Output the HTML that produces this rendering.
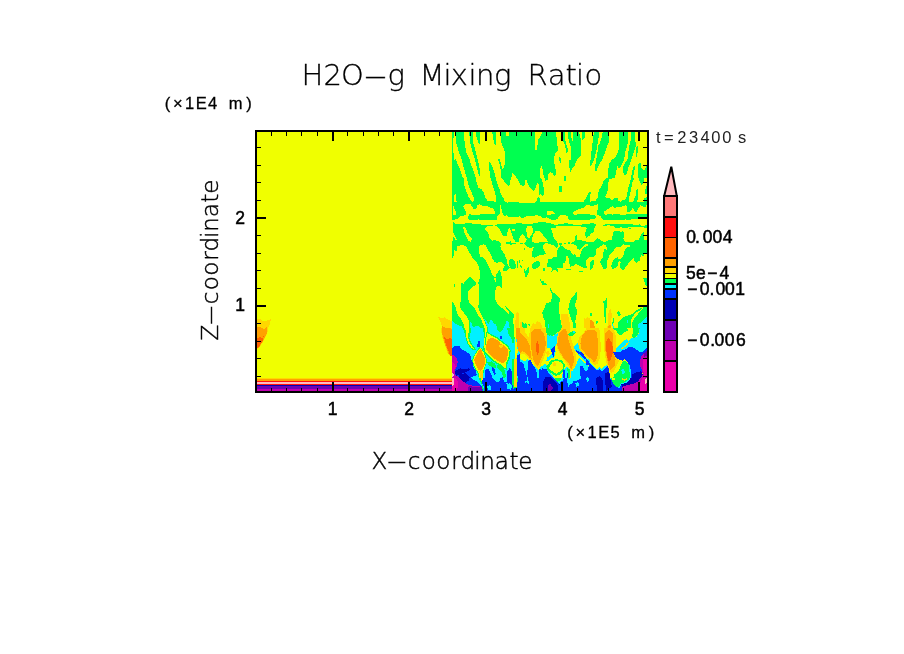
<!DOCTYPE html>
<html><head><meta charset="utf-8"><title>H2O-g Mixing Ratio</title>
<style>
html,body{margin:0;padding:0;background:#fff;}
body{width:904px;height:654px;overflow:hidden;}
svg{display:block}
text{font-family:"DejaVu Sans","Liberation Sans",sans-serif;fill:#000;}
.thin{font-weight:200;stroke:#000;stroke-width:0.3px;}
.ax{font-weight:200;stroke:#000;stroke-width:0.45px;}
.sm{font-family:"Liberation Sans","DejaVu Sans",sans-serif;stroke:#000;stroke-width:0.3px;}
.tm{font-family:"Liberation Sans","DejaVu Sans",sans-serif;fill:#222;}
.lab text{font-family:"Liberation Sans","DejaVu Sans",sans-serif;stroke:#000;stroke-width:0.5px;}
</style></head><body>
<svg width="904" height="654" viewBox="0 0 904 654">
<rect width="904" height="654" fill="#fff"/>
<g shape-rendering="crispEdges">
<rect x="256" y="131" width="392" height="261" fill="#f0ff00"/>
<g id="field">
<defs><clipPath id="c1"><rect x="452" y="131" width="68" height="47"/></clipPath><clipPath id="c2"><rect x="520" y="131" width="70" height="47"/></clipPath><clipPath id="c3"><rect x="590" y="131" width="58" height="47"/></clipPath><clipPath id="c4"><rect x="452" y="178" width="68" height="50"/></clipPath><clipPath id="c5"><rect x="520" y="178" width="70" height="50"/></clipPath><clipPath id="c6"><rect x="590" y="178" width="58" height="50"/></clipPath><clipPath id="c7"><rect x="452" y="228" width="68" height="50"/></clipPath><clipPath id="c8"><rect x="520" y="228" width="70" height="50"/></clipPath><clipPath id="c9"><rect x="590" y="228" width="58" height="50"/></clipPath><clipPath id="c10"><rect x="452" y="278" width="68" height="50"/></clipPath><clipPath id="c11"><rect x="520" y="278" width="70" height="50"/></clipPath><clipPath id="c12"><rect x="590" y="278" width="58" height="50"/></clipPath><clipPath id="c13"><rect x="452" y="328" width="68" height="50"/></clipPath><clipPath id="c14"><rect x="520" y="328" width="70" height="50"/></clipPath><clipPath id="c15"><rect x="590" y="328" width="58" height="50"/></clipPath><clipPath id="c16"><rect x="452" y="378" width="68" height="14"/></clipPath><clipPath id="c17"><rect x="520" y="378" width="70" height="14"/></clipPath><clipPath id="c18"><rect x="590" y="378" width="58" height="14"/></clipPath><clipPath id="c19"><rect x="500" y="352" width="60" height="40"/></clipPath><clipPath id="c20"><rect x="560" y="352" width="60" height="40"/></clipPath><clipPath id="c21"><rect x="257" y="300" width="100" height="92"/></clipPath><clipPath id="c22"><rect x="400" y="300" width="52" height="92"/></clipPath></defs>
<rect x="452.0" y="178.0" width="68.0" height="50.0" fill="#00ff50"/>
<rect x="452.0" y="328.0" width="68.0" height="50.0" fill="#00f0ff"/>
<rect x="452.0" y="378.0" width="196.0" height="14.0" fill="#0032ff"/>
<g clip-path="url(#c1)">
<polygon points="451.9,131.9 453.9,131.9 453.9,136.5 453.3,138.5 453.3,151.2 454.3,160.5 455.8,159.0 457.7,164.4 460.1,169.8 462.8,178.0 451.9,178.0" fill="#00ff50"/>
<polygon points="456.0,131.9 463.9,131.9 464.3,139.6 465.5,148.1 466.7,153.6 469.4,159.0 470.9,164.4 473.2,169.8 474.8,174.5 475.9,178.0 466.7,178.0 464.3,169.8 462.8,164.4 461.6,159.0 459.3,153.6 457.7,148.1 456.0,141.9" fill="#00ff50"/>
<polygon points="469.0,131.9 473.2,131.9 473.4,143.5 475.6,151.2 477.5,159.0 479.4,166.7 480.4,174.5 480.1,177.6 478.7,174.5 476.7,166.7 474.8,159.0 472.1,151.2 470.5,143.5" fill="#00ff50"/>
<polygon points="475.9,131.9 479.8,131.9 479.8,143.9 478.7,143.1 476.7,138.1" fill="#00ff50"/>
<polygon points="492.2,131.9 496.1,131.9 496.3,145.8 494.5,144.3 493.0,138.1" fill="#00ff50"/>
<polygon points="488.7,162.1 490.3,162.1 492.2,166.7 494.2,171.4 495.7,178.0 490.3,178.0 489.5,171.4 488.7,166.7" fill="#00ff50"/>
<polygon points="501.5,131.9 520.0,131.9 520.0,178.0 515.8,178.0 515.8,176.8 512.4,172.9 511.2,178.0 501.1,178.0 501.1,171.4 499.6,164.4 498.0,159.0 499.6,159.0 501.1,164.4 502.3,169.1 503.8,168.3 505.0,162.9 505.0,152.8 503.4,148.1 501.1,141.9" fill="#00ff50"/>
<rect x="506.2" y="131.9" width="3.1" height="4.3" fill="#f0ff00"/>
</g>
<g clip-path="url(#c2)">
<polygon points="520.0,131.9 556.0,131.9 557.2,143.5 558.0,150.5 555.2,153.6 554.1,157.4 554.1,162.9 555.2,166.7 556.0,172.9 555.2,175.6 554.1,175.6 552.5,172.9 549.8,172.2 548.3,174.5 547.9,178.0 520.0,178.0" fill="#00ff50"/>
<polygon points="535.1,131.9 542.1,131.9 540.9,135.7 538.2,139.6 537.4,145.8 536.7,149.7 535.1,149.7" fill="#f0ff00"/>
<polygon points="540.9,166.0 542.1,166.7 543.2,172.9 544.0,178.0 540.1,178.0 540.1,169.8" fill="#f0ff00"/>
<polygon points="563.0,131.9 564.9,131.9 565.3,139.6 566.5,145.0 567.6,148.1 568.0,152.0 566.5,152.8 565.7,148.1 564.2,143.5 563.0,141.2" fill="#00ff50"/>
<polygon points="567.6,131.9 571.1,131.9 571.5,138.1 572.7,141.9 573.3,131.9 579.3,131.9 579.6,135.7 581.2,140.4 581.2,154.3 580.0,156.7 577.3,159.0 575.8,162.1 575.0,166.0 571.9,168.3 570.7,172.2 569.6,169.8 569.2,160.5 570.7,159.8 570.7,146.6 568.8,141.2 568.0,135.7" fill="#00ff50"/>
<polygon points="582.0,131.9 585.1,131.9 584.7,137.3 582.4,140.0" fill="#00ff50"/>
<polygon points="559.1,157.0 560.3,157.4 561.1,160.5 560.7,162.9 559.5,160.5" fill="#00ff50"/>
<polygon points="564.2,175.3 565.7,176.4 566.5,178.0 564.2,178.0" fill="#00ff50"/>
</g>
<g clip-path="url(#c3)">
<polygon points="593.9,131.9 598.9,131.9 598.5,138.1 597.7,142.7 597.0,147.4 596.2,151.2 594.6,157.4 593.1,162.1 591.2,165.2 590.0,166.0 590.0,162.1 590.8,159.0 591.9,147.4 593.1,138.1" fill="#00ff50"/>
<polygon points="602.8,131.9 609.0,131.9 609.0,141.9 606.7,147.4 604.7,153.6 602.4,159.0 600.1,162.9 597.7,167.5 597.0,170.6 595.0,170.6 595.4,165.2 596.6,157.4 597.7,151.2 598.1,145.8 600.1,142.7 601.6,138.1" fill="#00ff50"/>
<polygon points="619.0,131.9 628.0,131.9 628.0,142.7 626.4,148.1 625.1,152.8 624.3,159.0 622.7,162.9 620.6,166.7 619.0,168.3 617.5,166.0 616.3,171.4 614.8,178.0 608.2,178.0 608.2,169.8 609.4,163.6 611.7,159.8 614.8,158.2 617.1,153.6 619.0,148.9" fill="#00ff50"/>
<polygon points="631.1,131.9 634.9,131.9 635.3,141.2 636.5,143.5 634.9,148.9 633.0,154.3 631.1,160.5 628.7,166.7 627.2,172.2 625.6,175.3 624.1,174.5 622.9,172.2 623.3,166.7 625.2,162.9 627.6,159.0 628.3,153.6 628.7,148.1 629.9,143.5 631.1,138.1" fill="#00ff50"/>
<polygon points="636.5,146.6 638.0,145.8 638.0,149.7 636.9,156.7 636.1,156.7 636.1,151.2" fill="#00ff50"/>
<polygon points="633.4,166.7 634.9,165.2 634.9,168.3 633.8,172.9 633.0,178.0 631.1,178.0 631.8,172.9" fill="#00ff50"/>
<polygon points="638.4,163.6 640.7,163.2 641.5,168.3 644.2,170.6 646.2,166.0 647.3,165.2 647.3,178.0 638.0,178.0 638.0,168.3" fill="#00ff50"/>
</g>
<g clip-path="url(#c4)">
<polygon points="463.9,178.0 466.7,178.0 468.6,185.7 471.3,191.9 473.6,197.4 474.0,201.2 472.1,201.6 468.6,197.4 466.3,191.2 464.3,185.7" fill="#f0ff00"/>
<polygon points="475.9,178.0 490.7,178.0 492.2,184.2 494.9,191.9 496.5,200.5 495.3,202.8 493.4,201.2 490.3,200.9 488.0,201.6 485.6,198.1 484.1,193.5 481.8,189.6 478.7,188.1 476.7,183.4" fill="#f0ff00"/>
<polygon points="495.7,178.0 501.5,178.0 507.7,185.7 508.9,186.5 510.0,184.2 510.8,178.0 516.6,178.0 520.0,183.4 520.0,202.8 518.2,202.0 508.9,202.0 507.7,202.8 504.2,201.2 503.8,198.1 501.1,195.0 499.6,189.6 497.3,183.4" fill="#f0ff00"/>
<polygon points="454.3,194.7 455.8,193.9 456.2,200.5 457.0,201.6 454.3,201.6" fill="#f0ff00"/>
<polygon points="453.1,206.3 453.9,206.3 454.6,209.8 455.8,211.3 455.8,214.8 453.1,214.8" fill="#f0ff00"/>
<polygon points="463.2,205.9 465.1,204.3 470.5,204.3 472.1,206.3 474.0,209.4 476.3,209.4 477.1,205.5 479.0,204.3 481.0,204.7 481.8,205.5 487.2,205.5 489.5,207.4 491.1,207.8 492.2,207.4 494.9,211.3 494.9,213.6 491.8,214.4 481.0,214.4 476.3,214.8 469.4,214.4 468.2,216.0 466.3,215.2 465.9,211.3 464.3,208.2" fill="#f0ff00"/>
<polygon points="451.9,220.6 454.6,219.8 458.5,218.3 460.1,216.3 465.5,215.2 468.2,216.0 467.8,217.5 469.0,219.8 477.1,219.8 478.3,219.1 479.4,220.2 496.5,220.2 497.3,216.7 499.6,214.4 499.6,205.1 500.7,205.1 501.5,209.0 502.3,212.9 504.2,216.0 506.5,215.2 508.9,217.5 518.2,216.7 520.0,216.0 520.0,222.5 515.1,223.7 499.6,223.7 496.5,224.5 494.2,224.5 488.7,224.9 472.5,224.1 470.5,222.9 466.3,222.5 464.7,223.7 455.8,223.7 453.9,222.5 453.1,221.4 453.1,228.0 451.9,228.0" fill="#f0ff00"/>
<polygon points="484.9,228.0 487.2,226.4 494.2,225.3 496.5,226.4 498.8,228.0" fill="#f0ff00"/>
<polygon points="463.2,228.0 463.6,227.2 464.7,227.2 465.1,228.0" fill="#f0ff00"/>
</g>
<g clip-path="url(#c5)">
<polygon points="520.0,178.0 540.9,178.0 542.1,180.3 543.2,185.0 544.0,189.6 543.6,195.0 542.5,195.8 540.9,194.3 539.0,194.7 539.0,185.7 537.8,182.3 536.7,185.0 535.1,188.8 533.6,190.8 530.8,188.1 528.1,185.0 526.6,179.5 525.4,179.5 525.0,185.4 522.7,185.7 520.0,185.0" fill="#00ff50"/>
<polygon points="544.8,178.0 547.9,178.0 547.5,180.3 545.2,180.7" fill="#00ff50"/>
<polygon points="564.2,178.0 566.5,178.0 566.3,180.7 564.3,180.7" fill="#00ff50"/>
<polygon points="559.1,186.1 561.1,185.7 562.2,187.7 562.2,191.6 559.1,191.9" fill="#00ff50"/>
<polygon points="520.0,202.8 535.1,202.8 536.7,201.2 537.0,198.1 538.2,197.0 539.8,198.5 540.1,202.0 583.5,202.0 585.8,198.1 588.2,193.5 590.0,191.9 590.0,204.7 586.6,205.1 583.5,207.8 578.1,209.4 574.2,211.3 573.1,213.2 574.2,214.8 576.5,214.8 577.3,214.0 590.0,214.0 590.0,219.8 569.6,219.8 568.0,218.3 567.6,216.0 564.9,215.2 560.3,215.2 558.7,216.3 557.2,219.4 552.5,219.8 549.8,219.1 546.7,217.1 544.8,217.9 542.5,217.9 540.9,216.0 535.5,215.2 534.7,216.0 526.2,216.0 524.3,217.5 522.3,217.9 520.0,217.1" fill="#00ff50"/>
<polygon points="547.1,211.3 552.9,211.3 554.9,213.6 552.5,214.4 547.9,214.8 547.1,215.6" fill="#f0ff00"/>
<polygon points="520.0,222.2 522.3,223.7 529.3,224.5 531.6,223.7 536.3,222.9 539.4,222.2 545.6,222.5 552.5,223.7 554.1,224.9 557.2,224.9 561.1,223.7 566.5,223.3 572.7,224.5 577.3,225.3 582.0,224.5 584.3,223.7 590.0,224.5 590.0,228.0 586.6,228.0 585.8,227.2 580.4,226.4 574.2,226.0 563.4,226.0 556.4,226.4 555.2,228.0 532.0,228.0 531.6,226.0 527.4,226.0 527.0,228.0 520.0,228.0" fill="#00ff50"/>
</g>
<g clip-path="url(#c6)">
<polygon points="605.9,178.0 614.0,178.0 609.4,179.5 608.2,182.6 607.8,189.6 606.7,193.5 605.1,196.6 606.7,197.8 610.5,198.5 611.3,200.1 613.2,199.7 614.4,198.1 617.5,198.1 618.3,200.5 620.2,201.6 621.8,201.2 622.5,199.7 625.2,199.7 627.2,195.0 628.0,188.1 630.3,181.1 631.1,178.0 634.2,178.0 632.2,182.6 631.8,185.7 630.3,193.5 629.1,196.6 629.1,201.6 633.4,201.6 634.2,198.1 635.7,195.8 636.1,190.4 638.0,188.8 638.0,195.0 637.3,201.6 647.3,201.6 647.3,204.3 645.8,206.3 643.8,207.8 641.9,205.9 640.3,205.1 636.5,212.1 634.9,212.1 633.8,209.0 632.6,208.2 629.5,212.1 627.2,212.1 627.2,207.4 626.0,204.3 624.1,205.9 621.8,206.7 617.1,207.4 614.8,207.8 613.2,206.3 610.9,206.7 606.3,210.5 604.3,211.3 604.3,214.4 605.9,214.8 610.9,213.6 612.5,214.8 613.2,214.0 619.4,214.0 621.0,214.8 627.2,214.4 628.7,213.6 634.9,214.4 636.5,213.6 647.3,213.6 647.3,217.1 638.8,218.7 633.4,219.1 628.0,220.2 625.6,219.1 624.1,220.2 603.2,219.8 601.6,218.3 600.8,216.3 599.3,215.6 597.4,214.8 597.0,211.3 597.7,209.0 598.5,205.1 597.4,204.3 595.4,205.1 593.1,205.9 590.0,206.3 590.0,201.6 595.8,201.2 596.2,198.9 597.7,197.4 598.1,193.5 599.3,189.6 601.6,185.7 603.6,181.1" fill="#00ff50"/>
<polygon points="638.4,178.0 644.2,178.0 644.2,181.9 642.7,183.4 641.5,184.6 639.6,181.1" fill="#00ff50"/>
<polygon points="645.8,186.5 647.3,185.7 647.3,193.5 645.0,193.5" fill="#00ff50"/>
<polygon points="644.2,197.8 647.3,197.4 647.3,202.0 644.2,202.0" fill="#00ff50"/>
<polygon points="590.0,191.9 590.9,191.9 590.9,193.9 590.0,193.9" fill="#00ff50"/>
<polygon points="590.0,215.2 595.4,215.2 595.8,217.5 594.6,219.1 590.0,219.4" fill="#00ff50"/>
<polygon points="590.0,223.3 593.9,223.3 595.8,224.5 595.4,226.4 594.6,228.0 590.0,228.0" fill="#00ff50"/>
<polygon points="603.2,225.3 606.3,224.1 627.2,224.5 628.7,223.7 633.4,224.5 636.5,225.3 639.6,224.1 641.1,226.0 644.2,226.4 645.8,225.3 647.3,224.9 647.3,228.0 644.2,228.0 643.4,227.2 628.7,226.8 627.2,228.0 622.5,228.0 621.0,226.4 619.4,228.0 615.6,228.0 614.0,226.0 608.6,225.3 603.9,226.0" fill="#00ff50"/>
</g>
<g clip-path="url(#c7)">
<polygon points="453.1,228.0 463.2,228.0 464.3,232.6 466.7,237.3 468.2,241.2 470.5,241.6 472.1,239.6 470.9,237.3 467.8,233.4 465.9,228.0 484.1,228.0 488.0,232.6 489.5,238.1 491.8,240.8 494.9,240.0 497.3,240.8 499.6,241.9 501.1,244.3 500.3,246.6 501.5,249.7 504.2,253.6 506.5,259.0 507.7,264.4 509.6,267.5 507.7,270.2 506.9,271.4 503.4,271.4 502.7,269.8 504.2,266.7 504.6,265.2 501.9,262.5 499.6,262.1 496.5,262.9 494.9,262.1 492.6,259.4 491.1,255.1 488.0,249.7 485.6,245.4 483.3,244.3 481.0,245.0 479.4,246.6 479.4,253.6 479.8,256.7 482.5,257.4 484.9,259.0 486.4,261.3 488.0,265.2 490.3,269.1 491.8,273.7 493.4,276.0 494.9,278.0 479.8,278.0 479.8,271.4 478.7,266.7 476.3,262.1 473.2,259.0 470.9,255.1 468.6,251.2 466.7,247.4 464.3,245.4 460.8,245.4 457.7,245.8 457.0,248.1 457.0,251.2 455.8,251.6 454.6,249.3 453.9,253.6 453.1,257.8 451.9,257.8 452.2,243.5 453.1,237.3 454.3,237.3 455.4,239.6 456.6,239.6 455.4,236.5 453.5,232.6" fill="#00ff50"/>
<polygon points="499.2,228.0 508.9,228.0 507.7,231.1 506.5,235.7 502.7,235.7 500.7,231.1" fill="#00ff50"/>
<polygon points="510.0,228.0 520.0,228.0 520.0,237.3 518.9,238.1 518.9,241.2 520.0,241.9 520.0,242.3 515.8,242.3 514.3,239.6 513.1,238.1 511.2,231.9" fill="#00ff50"/>
<rect x="512.4" y="228.8" width="2.3" height="1.9" fill="#f0ff00"/>
<polygon points="506.2,242.3 508.9,241.9 510.4,241.2 512.0,243.1 515.8,243.1 515.8,243.9 511.2,244.7 506.2,243.9" fill="#00ff50"/>
<polygon points="510.4,259.0 512.7,259.4 514.7,261.3 515.5,264.4 515.8,267.5 514.3,269.4 510.4,268.3 509.3,266.0 509.3,260.5" fill="#00ff50"/>
<polygon points="495.3,278.0 496.5,273.7 499.6,270.2 501.1,272.9 501.9,278.0" fill="#00ff50"/>
<rect x="518.9" y="260.1" width="1.1" height="2.7" fill="#00ff50"/>
<rect x="517.2" y="260.5" width="0.8" height="7.4" fill="#00ff50"/>
<rect x="468.6" y="277.2" width="2.3" height="0.9" fill="#00ff50"/>
</g>
<g clip-path="url(#c8)">
<polygon points="520.0,228.0 526.2,228.0 526.6,232.6 527.7,237.3 529.3,238.1 531.6,235.0 533.2,231.9 533.2,228.0 551.0,228.0 552.1,231.9 553.3,236.5 554.9,239.6 557.2,241.9 558.0,243.5 558.0,246.6 556.4,248.1 554.9,245.8 552.5,244.7 549.4,244.3 547.1,243.1 544.8,243.5 543.2,245.8 543.2,248.9 544.8,251.2 545.9,253.9 544.0,254.7 540.9,255.1 537.8,255.9 534.7,257.8 532.4,257.0 532.0,252.8 532.8,249.7 533.9,246.6 532.4,247.4 530.1,247.8 527.0,246.6 524.6,244.7 524.3,243.5 525.8,241.6 527.0,239.6 524.6,236.5 522.3,234.2 520.8,235.4 520.0,235.7" fill="#00ff50"/>
<polygon points="535.5,231.1 539.8,231.1 542.5,234.2 544.8,237.3 546.7,239.6 547.9,241.9 544.8,242.3 533.9,242.7 532.0,241.2 532.0,238.1 533.6,234.2" fill="#f0ff00"/>
<polygon points="558.7,243.1 562.2,243.1 561.1,245.8 563.4,246.6 565.7,248.9 567.3,249.7 569.6,249.7 571.1,251.2 571.1,252.8 573.4,254.7 574.6,253.9 576.5,256.7 579.6,256.7 581.2,251.2 583.5,248.1 585.8,246.6 588.2,246.2 588.2,244.3 585.8,244.3 583.5,245.8 581.2,248.9 579.6,249.7 577.3,248.9 576.9,245.8 574.2,244.7 571.1,243.5 572.7,241.9 575.0,240.8 575.4,235.7 576.9,235.0 577.3,240.0 581.2,240.4 585.1,240.8 585.8,241.9 590.0,241.9 590.0,256.7 588.2,257.8 586.2,260.5 585.5,262.9 586.6,266.0 586.6,267.9 583.5,267.5 579.6,266.0 577.3,264.4 575.4,264.0 572.7,266.3 570.3,266.7 569.6,264.4 569.2,260.5 568.0,256.3 566.5,256.3 565.7,260.5 564.5,262.9 563.0,263.6 562.6,267.5 557.2,268.3 558.7,271.4 557.2,272.2 555.6,270.2 553.3,270.2 552.1,272.2 551.0,271.8 552.1,269.1 550.6,267.5 547.1,266.7 546.7,264.4 547.9,262.1 547.9,259.4 551.0,259.0 553.3,257.4 556.4,257.0 557.2,254.3 557.2,250.5 558.7,248.1 559.9,246.2" fill="#00ff50"/>
<polygon points="587.0,228.0 590.0,228.0 590.0,235.7 588.2,236.5 586.6,238.1 585.5,235.7 584.3,234.2 585.5,231.9" fill="#00ff50"/>
<polygon points="532.0,265.2 533.9,262.5 536.7,261.3 539.0,261.3 540.1,262.9 540.5,265.2 539.0,266.7 536.3,268.3 533.9,269.1 532.4,267.9" fill="#00ff50"/>
<polygon points="523.5,269.1 525.0,269.1 525.8,271.4 527.0,269.8 527.7,267.1 528.9,267.1 529.1,271.4 528.1,274.5 527.0,276.0 526.6,277.2 525.0,277.2 525.4,274.5 524.3,272.2" fill="#00ff50"/>
<rect x="520.0" y="243.1" width="2.7" height="0.8" fill="#00ff50"/>
<rect x="564.2" y="243.1" width="1.9" height="0.8" fill="#00ff50"/>
<rect x="568.0" y="242.3" width="1.9" height="1.5" fill="#00ff50"/>
<rect x="566.1" y="269.1" width="4.6" height="1.2" fill="#00ff50"/>
<rect x="579.3" y="271.0" width="3.9" height="1.2" fill="#00ff50"/>
<rect x="542.9" y="268.3" width="1.9" height="2.2" fill="#00ff50"/>
<rect x="523.9" y="248.1" width="1.2" height="1.9" fill="#00ff50"/>
<rect x="521.9" y="259.8" width="1.2" height="1.2" fill="#00ff50"/>
<polygon points="520.0,265.2 521.2,265.2 521.9,267.5 520.8,267.9" fill="#00ff50"/>
</g>
<g clip-path="url(#c9)">
<polygon points="590.0,241.9 593.1,242.3 595.4,239.6 597.7,238.1 600.1,239.6 603.2,241.6 606.3,241.6 608.6,240.4 612.1,239.6 612.5,235.7 613.2,232.6 614.8,231.1 617.9,231.1 619.0,230.3 620.2,232.6 622.5,231.1 624.1,232.3 624.1,235.7 623.3,238.8 624.1,241.2 627.2,241.9 633.4,241.6 635.7,240.0 638.4,240.4 640.0,237.3 641.1,234.2 643.4,232.3 644.2,233.4 644.2,239.6 647.3,239.6 647.3,253.6 644.2,253.9 643.4,255.9 641.1,255.1 640.3,257.4 639.6,260.5 636.5,262.9 634.9,261.3 633.4,258.2 632.2,259.8 628.7,262.9 627.2,265.2 624.9,268.3 623.3,269.8 621.0,269.1 619.8,267.5 620.6,262.1 619.4,261.3 618.3,262.5 617.9,265.2 615.6,267.5 612.5,269.1 610.9,266.3 612.1,262.9 613.2,259.8 615.6,258.2 617.9,257.0 618.7,259.0 621.0,259.0 623.3,255.9 624.1,252.0 625.6,248.9 627.2,247.4 629.5,246.6 629.9,245.4 624.9,244.7 623.7,244.3 621.0,245.8 620.6,247.0 616.3,246.6 614.8,248.9 612.5,252.0 609.4,255.5 608.2,259.0 607.0,261.3 606.7,268.3 604.7,269.1 602.8,268.7 602.4,266.7 600.8,264.4 600.1,261.3 601.6,259.0 603.6,257.0 602.8,253.6 604.3,249.3 606.7,249.7 606.7,247.4 605.1,244.7 603.6,244.3 600.1,246.6 597.7,248.1 596.2,249.7 595.8,254.3 593.9,256.7 590.0,257.0" fill="#00ff50"/>
<polygon points="590.0,228.0 593.9,228.0 593.9,231.1 592.3,233.0 590.0,233.8" fill="#00ff50"/>
<polygon points="590.0,262.1 591.5,260.5 593.5,260.1 594.3,262.5 593.5,265.2 592.3,268.3 590.8,269.8 590.0,269.4" fill="#00ff50"/>
<rect x="628.7" y="228.0" width="2.2" height="0.9" fill="#00ff50"/>
</g>
<g clip-path="url(#c10)">
<polygon points="451.9,302.0 453.5,302.8 455.4,306.7 456.6,311.3 458.5,316.0 461.6,319.8 463.9,324.5 464.3,328.0 462.0,328.0 461.6,326.0 457.7,325.3 454.6,322.9 451.9,321.0" fill="#00ff50"/>
<polygon points="451.9,321.0 454.6,322.9 457.7,325.3 461.6,326.0 462.0,328.0 451.9,328.0" fill="#00f0ff"/>
<polygon points="460.8,283.0 462.8,283.0 463.6,284.2 464.7,281.9 468.2,278.0 472.1,278.0 473.2,280.3 475.9,281.9 475.9,284.6 473.2,286.5 470.5,288.8 468.6,290.8 468.2,293.5 468.2,299.7 469.4,302.8 472.5,305.5 474.8,308.2 476.7,312.1 478.7,316.0 481.0,319.1 482.5,322.9 484.1,326.4 484.1,328.0 479.8,328.0 478.7,326.0 475.6,326.4 474.0,327.6 472.5,326.4 471.7,322.9 470.5,322.2 470.1,328.0 469.4,328.0 468.6,319.8 467.0,316.7 463.9,312.9 461.6,309.8 460.1,306.7 460.1,302.8 461.2,299.7 461.2,293.5" fill="#00ff50"/>
<polygon points="470.5,322.2 471.7,322.9 472.5,326.4 474.0,327.6 475.6,326.4 478.7,326.0 479.8,328.0 470.1,328.0" fill="#00f0ff"/>
<polygon points="479.8,278.0 493.4,278.0 494.5,280.3 495.7,282.6 496.1,278.0 501.9,278.0 501.9,288.1 500.7,288.1 500.3,286.5 498.0,286.1 496.5,287.3 495.3,290.4 494.9,294.3 494.5,296.6 495.7,300.5 497.3,303.6 500.3,306.7 504.2,309.8 507.3,312.9 508.1,314.0 509.6,312.9 505.8,307.8 505.4,306.3 507.3,307.8 511.2,312.1 514.3,315.2 513.9,317.9 512.7,318.3 513.9,326.8 514.3,328.0 509.6,328.0 508.9,322.9 507.7,321.0 506.5,321.4 505.4,324.5 504.2,326.4 503.8,328.0 497.3,328.0 496.9,326.0 495.3,324.1 493.4,322.9 492.2,320.6 490.3,319.8 489.5,321.8 488.7,324.5 487.2,322.5 486.4,320.6 484.9,319.4 484.9,320.6 486.0,323.7 487.2,326.8 488.0,328.0 487.2,328.0 486.0,325.3 484.5,321.4 482.5,316.7 480.6,312.9 478.7,309.8 478.3,305.9 479.0,301.2 479.0,288.1 478.3,282.6" fill="#00ff50"/>
<polygon points="484.1,319.1 486.4,320.6 487.2,322.5 488.7,324.5 489.5,321.8 490.3,319.8 492.2,320.6 493.4,322.9 495.3,324.1 496.9,326.0 497.3,328.0 488.0,328.0 487.2,326.8 486.0,323.7 484.9,320.6" fill="#00f0ff"/>
<polygon points="506.5,321.4 507.7,321.0 508.9,322.9 509.6,328.0 503.8,328.0 504.2,326.4 505.4,324.5" fill="#00f0ff"/>
<polygon points="515.8,313.6 517.4,311.3 518.6,313.6 518.9,328.0 515.1,328.0 515.5,319.8" fill="#ffd700"/>
<rect x="453.9" y="283.8" width="1.2" height="3.1" fill="#00ff50"/>
</g>
<g clip-path="url(#c11)">
<polygon points="549.8,288.1 551.0,288.1 552.1,291.6 556.4,294.7 559.9,298.1 559.9,301.2 559.1,302.8 559.1,312.1 559.9,316.7 560.7,321.4 561.8,326.0 562.2,328.0 545.6,328.0 545.2,321.4 543.2,317.5 542.9,314.4 542.1,313.6 543.2,310.5 544.8,307.4 545.9,303.9 547.1,302.8 549.8,302.4 551.4,300.5 551.9,293.5 550.2,290.8" fill="#00ff50"/>
<polygon points="576.2,292.3 577.2,292.3 577.2,297.4 575.4,303.6 575.4,306.7 576.5,309.0 577.2,311.3 576.9,313.6 575.8,316.7 575.4,321.4 575.8,325.3 575.8,328.0 573.4,328.0 572.7,322.9 571.1,319.1 569.6,314.4 568.4,309.8 568.8,305.1 570.3,300.5 571.1,298.1 573.4,296.2" fill="#00ff50"/>
<polygon points="521.9,322.2 523.1,322.5 524.3,323.7 525.8,323.3 527.0,324.9 527.0,328.0 522.7,328.0 521.9,325.3" fill="#00ff50"/>
<polygon points="539.8,279.2 540.9,279.2 541.3,280.7 543.6,281.1 544.0,282.6 546.3,283.4 546.7,284.6 545.2,285.7 544.8,284.6 542.5,284.6 541.3,282.3 539.8,280.7" fill="#00ff50"/>
<polygon points="528.1,324.1 529.7,324.1 530.1,325.6 528.5,325.4" fill="#00ff50"/>
<polygon points="561.1,314.4 563.4,314.0 564.9,314.4 567.6,314.4 568.4,316.7 569.6,322.2 570.0,328.0 562.2,328.0 561.4,322.2 561.1,318.3" fill="#ffd700"/>
<polygon points="520.0,321.4 521.5,322.2 521.9,325.3 522.7,328.0 520.0,328.0" fill="#ffd700"/>
<polygon points="531.2,328.0 531.6,326.0 532.8,322.9 534.3,323.3 535.1,324.5 536.3,322.2 537.4,321.0 539.0,321.8 540.5,322.5 541.3,324.5 542.1,326.8 542.5,328.0" fill="#ffd700"/>
<polygon points="584.3,318.3 585.8,318.7 587.4,317.1 588.9,318.3 590.0,317.9 590.0,328.0 583.5,328.0 583.9,322.9" fill="#ffd700"/>
<rect x="547.9" y="324.1" width="1.2" height="4.0" fill="#00f0ff"/>
</g>
<g clip-path="url(#c12)">
<polygon points="603.2,301.2 605.1,300.9 606.1,298.1 606.9,298.1 606.7,303.6 606.3,312.9 605.9,322.9 604.7,322.9 604.3,310.5 603.9,304.3" fill="#00ff50"/>
<polygon points="647.3,306.7 644.2,307.0 641.1,308.2 636.5,310.5 633.4,313.6 628.7,315.2 624.1,316.7 621.0,319.1 618.7,321.4 617.9,324.5 618.3,328.0 638.0,328.0 638.4,324.5 642.7,320.6 647.3,316.7" fill="#00ff50"/>
<polygon points="643.4,307.8 639.6,312.1 636.5,316.0 633.4,319.8 631.8,322.9 631.8,328.0 631.1,328.0 630.7,321.4 631.8,318.3 634.9,313.6 636.5,312.1 639.6,310.9 641.9,308.6" fill="#f0ff00"/>
<polygon points="647.3,316.7 642.7,320.6 638.4,324.5 638.0,328.0 647.3,328.0" fill="#00f0ff"/>
<rect x="627.2" y="320.2" width="0.8" height="2.7" fill="#00f0ff"/>
<polygon points="643.4,278.0 647.3,278.0 647.3,285.7 645.8,285.4 644.6,282.6 643.8,280.3" fill="#00ff50"/>
<polygon points="616.7,312.5 618.7,310.9 619.8,312.9 621.0,314.4 619.4,316.3 617.9,315.2" fill="#00ff50"/>
<polygon points="590.0,313.2 591.5,313.2 591.9,316.3 590.4,316.3" fill="#00ff50"/>
<polygon points="596.2,321.4 597.7,321.0 597.7,322.5 597.0,324.1 596.2,323.7" fill="#00ff50"/>
<polygon points="612.1,323.7 612.9,321.4 613.6,317.5 614.2,317.5 614.0,321.4 613.2,324.5" fill="#00ff50"/>
<polygon points="608.2,313.6 609.4,310.5 610.5,309.0 611.3,310.5 611.7,315.2 611.3,321.4 610.9,328.0 607.4,328.0 607.8,321.4" fill="#ffd700"/>
<polygon points="608.2,326.0 610.8,324.5 610.8,328.0 608.0,328.0" fill="#ffa000"/>
<polygon points="590.0,320.2 592.3,320.6 593.5,322.2 593.9,324.5 594.6,326.4 594.6,328.0 590.0,328.0" fill="#ffa000"/>
<polygon points="612.1,324.1 612.9,324.5 614.0,328.0 612.9,328.0" fill="#00f0ff"/>
</g>
<g clip-path="url(#c13)">
<polygon points="451.9,348.9 454.6,346.2 459.3,346.2 462.4,349.7 466.7,352.0 470.1,354.7 471.3,359.0 472.5,362.1 473.2,366.7 475.6,370.6 476.7,374.5 475.6,376.0 471.7,376.8 470.9,378.0 451.9,378.0" fill="#0032ff"/>
<polygon points="451.9,354.3 454.3,355.5 457.0,358.6 457.7,362.1 456.6,366.7 454.6,370.6 454.6,374.5 457.0,376.0 459.3,378.0 451.9,378.0" fill="#be00af"/>
<polygon points="451.9,362.1 454.6,363.6 455.8,366.7 453.9,370.6 453.1,374.5 451.9,374.5" fill="#eb00aa"/>
<polygon points="454.6,371.4 460.1,368.3 465.5,369.1 469.4,368.3 470.1,370.2 465.5,372.5 459.3,374.5 456.2,376.0" fill="#0000b4"/>
<polygon points="458.5,374.6 465.3,373.2 470.1,378.0 459.3,378.0" fill="#0000b4"/>
<polygon points="451.9,372.9 453.1,373.3 453.9,375.6 452.3,377.6 451.9,377.6" fill="#ffb9be"/>
<polygon points="462.4,328.0 470.9,328.0 470.5,332.6 469.4,337.3 470.5,341.2 472.5,344.7 474.8,347.4 475.9,349.3 474.8,350.5 472.5,349.7 469.4,346.6 467.0,342.7 465.9,338.1 464.7,333.4 463.6,330.3" fill="#00ff50"/>
<polygon points="465.1,328.0 469.4,328.0 468.6,332.6 468.0,337.3 469.0,341.2 470.9,344.7 473.2,347.4 474.8,348.9 474.0,349.7 471.7,347.8 469.0,344.7 467.4,341.2 466.4,337.3 465.9,332.6" fill="#f0ff00"/>
<polygon points="482.9,328.0 488.0,328.0 487.2,332.6 486.8,337.3 485.6,343.5 484.9,350.5 484.1,352.0 483.3,349.7 483.7,343.5 484.1,335.7" fill="#00ff50"/>
<polygon points="484.5,328.0 486.8,328.0 486.3,335.7 485.2,343.5 484.7,350.5 484.1,350.5 484.2,343.5 484.7,335.7" fill="#f0ff00"/>
<polygon points="496.5,328.0 503.4,328.0 501.9,331.1 499.6,331.9 497.6,330.3" fill="#00ff50"/>
<polygon points="507.3,328.0 514.3,328.0 514.7,335.7 514.3,343.5 512.0,342.7 511.2,337.3 508.9,335.7 507.7,331.9" fill="#00ff50"/>
<polygon points="514.3,328.0 515.8,328.0 516.6,343.5 517.8,351.2 516.6,357.4 515.8,362.9 516.6,378.0 514.3,378.0 513.9,366.7 514.7,359.0 515.5,352.0 514.7,343.5" fill="#f0ff00"/>
<polygon points="515.8,328.0 520.0,328.0 520.0,352.8 518.2,351.2 517.0,343.5 516.2,335.7" fill="#ffa000"/>
<polygon points="517.4,355.1 520.0,354.3 520.0,378.0 518.2,378.0 517.4,366.7" fill="#0032ff"/>
<polygon points="487.0,330.3 491.1,334.2 494.2,335.7 497.3,336.9 500.3,339.6 504.2,342.7 508.1,345.4 510.8,350.5 510.0,355.9 509.3,359.8 507.7,362.9 506.9,369.8 505.0,369.1 502.7,366.7 499.6,365.2 495.7,363.2 492.6,360.9 489.1,357.8 486.0,354.7 484.1,352.0 484.9,343.5 485.6,336.5" fill="#00ff50"/>
<polygon points="487.2,332.6 490.3,335.0 493.4,336.5 496.5,338.1 499.6,340.8 503.4,343.5 507.3,346.6 509.6,350.5 508.9,355.1 508.1,359.0 506.5,362.1 505.8,368.3 504.2,367.5 501.9,365.2 499.6,363.6 496.5,362.1 493.4,359.8 490.3,356.7 487.2,353.6 484.9,351.2 485.6,343.5 486.4,337.3" fill="#f0ff00"/>
<polygon points="488.7,338.8 491.8,338.1 495.7,338.8 498.4,341.2 501.1,344.3 504.2,345.8 507.3,348.1 508.5,351.2 507.7,355.1 506.9,359.0 505.4,361.3 503.4,362.9 501.1,362.5 498.0,360.9 494.9,359.0 491.8,356.3 488.7,352.8 486.4,349.7 486.4,345.0 487.2,341.2" fill="#ffa000"/>
<polygon points="499.2,344.7 502.7,344.7 503.4,346.6 501.1,347.8 499.2,347.0" fill="#ffd700"/>
<polygon points="479.4,347.4 481.8,347.8 484.1,352.0 486.4,357.4 486.8,362.1 485.6,366.0 484.1,369.8 483.3,374.5 482.9,378.0 478.7,378.0 477.9,373.7 475.6,369.8 473.2,365.2 472.1,360.5 473.2,356.7 475.6,352.8 477.5,349.7" fill="#00ff50"/>
<polygon points="479.8,348.3 481.4,348.5 483.5,352.4 485.6,357.8 486.0,362.1 484.9,366.0 483.5,369.8 482.9,378.0 479.4,378.0 478.5,372.9 476.3,369.4 474.0,365.2 473.0,360.5 474.0,357.0 476.2,353.2 478.0,350.3" fill="#f0ff00"/>
<polygon points="480.2,349.3 481.4,349.7 482.9,353.6 484.9,358.2 485.2,362.1 484.1,366.0 482.5,369.4 480.6,371.0 478.7,369.8 476.7,366.7 474.8,362.9 474.4,359.8 475.6,356.7 477.1,353.6 478.7,350.9" fill="#ffa000"/>
<polygon points="479.4,371.4 482.5,370.2 482.9,374.5 482.5,378.0 479.8,378.0" fill="#ffd700"/>
<polygon points="484.9,371.4 486.4,369.1 488.7,369.4 490.3,372.2 491.8,376.0 492.2,378.0 484.9,378.0" fill="#0032ff"/>
<polygon points="492.2,366.3 493.4,366.0 494.9,369.8 495.7,373.7 494.5,375.3 493.0,372.2 491.8,369.1" fill="#0032ff"/>
<polygon points="507.3,372.2 509.3,368.3 511.2,369.8 512.0,374.5 512.0,378.0 507.7,378.0" fill="#0032ff"/>
<polygon points="477.9,341.2 479.8,341.2 479.8,346.6 477.1,346.6" fill="#0032ff"/>
<polygon points="500.3,336.1 501.9,335.7 501.5,338.8 500.0,338.5" fill="#0032ff"/>
<polygon points="487.2,362.1 491.8,361.3 494.9,363.6 496.5,366.7 494.9,368.3 491.8,366.7 488.7,365.2" fill="#00ff50"/>
<polygon points="496.5,364.4 501.1,366.0 504.2,369.1 505.8,374.5 505.4,378.0 503.4,378.0 501.9,372.9 498.8,369.8 496.5,367.5" fill="#00ff50"/>
<polygon points="512.0,359.0 514.3,359.8 514.7,365.2 512.7,368.3 511.6,364.4" fill="#00ff50"/>
</g>
<g clip-path="url(#c14)">
<polygon points="520.0,359.0 522.3,359.8 524.6,361.3 527.7,359.0 530.1,360.5 533.2,364.4 536.3,368.3 538.6,369.8 540.9,366.7 543.2,365.2 545.6,363.6 547.1,366.7 548.7,371.4 552.5,374.5 554.1,378.0 520.0,378.0" fill="#00f0ff"/>
<polygon points="520.0,361.3 523.1,362.9 524.6,368.3 526.2,372.9 527.0,378.0 520.0,378.0" fill="#0032ff"/>
<polygon points="528.5,360.5 531.6,364.4 534.7,369.8 536.7,373.7 537.0,378.0 530.1,378.0 529.3,371.4 527.7,365.2" fill="#0032ff"/>
<polygon points="542.5,368.3 545.6,369.8 547.9,373.7 551.0,376.0 551.8,378.0 540.1,378.0 540.9,372.9" fill="#0032ff"/>
<polygon points="563.4,369.8 566.5,366.7 569.6,369.1 571.9,371.4 574.2,368.3 577.3,362.1 578.9,357.4 582.0,360.5 586.6,364.4 590.0,366.7 590.0,378.0 561.8,378.0" fill="#00f0ff"/>
<polygon points="545.6,328.0 561.8,328.0 560.3,331.1 557.2,332.6 554.1,335.0 551.8,336.5 551.0,335.0 549.4,335.7 547.1,334.6 545.9,331.1" fill="#00ff50"/>
<polygon points="546.3,335.0 549.4,335.7 551.0,335.0 551.8,336.9 554.1,335.4 558.0,332.6 558.7,335.7 558.0,340.4 556.4,345.0 554.9,347.4 555.6,351.2 554.9,355.1 554.1,357.4 551.0,358.2 548.7,360.5 546.3,361.3 547.1,357.4 550.2,355.9 551.8,353.6 551.0,350.5 549.4,348.1 547.1,347.4 545.9,343.5 547.1,339.6" fill="#00f0ff"/>
<polygon points="551.8,348.1 554.9,346.2 554.9,350.5 554.1,354.3 553.3,357.4 552.1,354.3 551.0,350.5" fill="#0032ff"/>
<polygon points="520.0,328.0 524.6,328.0 525.4,332.6 528.5,337.3 531.6,343.5 532.4,351.2 533.6,359.0 532.4,361.3 529.3,359.0 524.6,354.3 522.3,353.6 520.0,355.1" fill="#ffd700"/>
<polygon points="520.0,331.9 523.1,335.7 527.0,339.6 530.1,345.8 530.8,353.6 531.6,359.0 529.3,357.4 526.2,353.6 523.1,351.2 520.0,352.8" fill="#ffa000"/>
<polygon points="530.1,328.0 545.6,328.0 546.7,335.7 547.1,343.5 546.3,350.5 544.0,357.4 541.7,362.9 540.1,367.5 537.4,369.1 534.7,366.0 532.4,360.5 530.8,353.6 529.7,343.5 529.3,334.2" fill="#ffd700"/>
<polygon points="531.6,331.1 535.5,328.8 540.1,328.8 543.2,332.6 545.2,338.1 545.9,343.5 544.8,349.7 543.2,354.3 540.9,359.0 539.4,363.6 537.8,366.7 535.5,364.4 533.2,359.0 531.6,351.2 530.8,343.5 530.8,335.7" fill="#ffa000"/>
<polygon points="536.7,341.6 537.8,340.8 539.0,345.8 539.0,352.0 537.8,355.1 536.7,352.8 535.9,347.4" fill="#ff6400"/>
<polygon points="558.0,332.6 561.8,328.0 569.6,328.0 570.3,332.6 571.1,338.1 572.7,343.5 574.2,348.9 575.8,355.1 576.5,360.5 575.8,365.2 573.4,368.3 571.9,371.4 569.6,368.3 566.5,362.9 563.4,359.0 560.3,354.3 557.6,349.7 556.4,345.0 557.2,338.1" fill="#ffd700"/>
<polygon points="559.5,332.6 562.6,329.5 565.7,328.8 567.3,332.6 568.0,338.8 569.6,343.5 571.1,348.1 572.7,352.8 574.2,359.0 573.4,363.6 571.9,367.5 571.1,369.8 569.6,365.2 568.0,362.1 565.7,360.5 563.4,357.4 561.1,353.6 558.7,349.7 557.2,345.0 558.0,338.8" fill="#ffa000"/>
<polygon points="569.6,365.2 571.1,369.8 571.5,378.0 569.2,378.0 569.6,371.4" fill="#ffd700"/>
<polygon points="545.9,352.8 548.3,350.5 549.8,353.9 547.5,356.7" fill="#ffd700"/>
<polygon points="546.3,366.7 551.0,360.5 556.4,359.0 561.8,360.5 564.9,364.4 564.2,369.8 560.3,374.5 555.6,376.0 551.0,372.9 547.1,369.8" fill="#00ff50"/>
<polygon points="548.7,368.3 552.5,362.1 556.4,360.5 560.3,362.1 563.4,364.4 563.4,368.3 560.3,371.4 556.4,373.7 552.5,371.4" fill="#f0ff00"/>
<polygon points="552.5,364.4 554.9,362.1 556.4,365.2 554.1,366.7" fill="#ffd700"/>
<polygon points="568.0,334.2 571.1,331.9 574.2,330.3 575.8,332.6 572.7,335.7 569.6,336.5" fill="#00ff50"/>
<polygon points="572.7,331.1 574.2,330.3 575.0,332.6 573.4,333.4" fill="#00f0ff"/>
<polygon points="573.4,346.6 577.3,343.5 581.2,340.4 582.0,343.5 580.4,348.1 582.0,352.8 585.8,357.4 590.0,360.5 590.0,366.7 586.6,363.6 582.0,359.0 578.9,355.1 575.8,351.2" fill="#00f0ff"/>
<polygon points="578.9,337.3 583.5,332.6 586.6,328.0 590.0,328.0 590.0,360.5 586.6,357.4 582.0,352.8 579.3,348.9 578.1,343.5" fill="#ffd700"/>
<polygon points="582.0,335.7 585.8,331.1 590.0,329.5 590.0,359.0 586.6,355.1 583.5,351.2 581.2,348.1 580.4,343.5" fill="#ffa000"/>
<polygon points="575.8,350.1 578.9,351.2 582.0,354.3 585.8,357.4 586.6,359.0 584.3,359.0 580.4,355.1 576.5,352.0" fill="#0032ff"/>
<polygon points="580.4,366.7 582.7,366.0 584.3,369.8 586.6,371.4 588.2,368.3 590.0,367.5 590.0,378.0 582.0,378.0 581.2,372.9" fill="#0032ff"/>
<polygon points="585.8,359.8 588.2,360.5 588.9,364.4 586.6,365.2" fill="#0032ff"/>
<rect x="575.8" y="371.4" width="1.5" height="3.9" fill="#0032ff"/>
<rect x="563.4" y="370.2" width="1.5" height="7.8" fill="#0032ff"/>
<rect x="566.9" y="372.9" width="1.2" height="5.1" fill="#0032ff"/>
<polygon points="566.5,367.5 569.6,369.1 570.3,374.5 569.6,378.0 568.0,378.0 568.0,372.9" fill="#00ff50"/>
</g>
<g clip-path="url(#c15)">
<polygon points="612.5,328.0 639.6,328.0 638.8,332.6 636.5,336.5 633.4,338.1 631.8,335.7 631.1,332.6 627.2,331.1 624.1,332.6 621.0,335.7 618.7,334.2 616.3,331.1" fill="#00ff50"/>
<polygon points="627.2,328.0 632.6,328.0 633.0,332.6 630.3,338.1 628.0,341.9 626.4,340.4 628.7,335.7 628.0,331.1" fill="#f0ff00"/>
<polygon points="639.6,328.0 647.3,328.0 647.3,347.4 644.2,350.5 641.1,352.8 636.5,349.7 631.8,346.6 629.5,346.6 626.4,348.9 622.5,350.5 618.7,352.8 615.6,353.6 614.0,351.2 616.3,348.1 619.4,345.0 622.5,341.9 626.4,338.8 628.7,341.2 631.1,338.1 633.4,338.5 636.5,336.9 638.8,333.0" fill="#00f0ff"/>
<polygon points="621.0,348.1 624.1,346.2 626.4,343.5 628.7,341.9 628.0,344.7 624.9,347.0 621.8,349.3" fill="#ffd700"/>
<polygon points="614.0,351.2 615.6,353.6 618.7,352.8 622.5,350.5 626.4,348.9 629.5,346.6 631.8,346.6 636.5,349.7 641.1,352.8 644.2,350.5 647.3,347.4 647.3,350.5 644.2,352.8 641.1,356.7 639.6,361.3 640.3,366.7 641.9,369.8 641.1,374.5 638.0,376.0 633.4,378.0 631.1,378.0 630.3,371.4 629.5,365.2 627.2,361.3 624.9,359.0 622.5,360.5 619.4,359.8 616.3,357.4 614.8,355.1 613.2,353.6" fill="#0032ff"/>
<polygon points="631.8,374.5 636.5,372.2 641.1,371.4 642.7,374.5 641.9,378.0 631.8,378.0" fill="#0000b4"/>
<polygon points="641.1,356.7 644.2,352.8 647.3,350.1 647.3,378.0 641.1,378.0 642.7,374.5 641.9,369.8 640.3,366.7 639.6,361.3" fill="#be00af"/>
<polygon points="643.4,353.6 647.3,350.1 647.3,355.9 644.2,356.7" fill="#6e00b4"/>
<polygon points="643.4,359.0 647.3,357.4 647.3,376.0 644.2,378.0 643.4,371.4 642.7,365.2" fill="#eb00aa"/>
<polygon points="590.0,328.0 599.3,328.0 600.1,335.7 600.8,347.4 600.1,357.4 597.7,363.6 594.6,365.2 591.5,362.1 590.0,360.5" fill="#ffd700"/>
<polygon points="590.0,330.3 594.6,329.5 597.0,332.6 597.7,339.6 598.5,347.4 597.7,355.1 596.2,360.5 593.9,362.1 591.5,359.0 590.0,357.4" fill="#ffa000"/>
<polygon points="603.9,328.0 613.2,328.0 615.6,335.7 615.6,347.4 616.3,355.1 618.7,360.5 617.9,366.7 614.8,371.4 610.9,372.9 608.6,369.8 606.3,362.1 604.3,351.2 603.9,339.6" fill="#ffd700"/>
<polygon points="605.5,332.6 609.4,329.5 612.5,332.6 613.2,340.4 613.2,348.1 614.0,354.3 615.6,359.0 614.8,365.2 612.5,368.3 610.1,369.8 608.6,365.2 607.0,359.0 605.5,351.2 605.1,341.9" fill="#ffa000"/>
<polygon points="606.7,339.6 608.6,338.1 611.7,342.7 612.9,348.1 612.5,353.6 610.9,359.0 609.0,362.1 607.4,357.4 606.3,351.2 605.9,343.5" fill="#ff6400"/>
<polygon points="590.0,362.1 593.1,365.2 597.0,369.1 599.3,366.7 601.6,369.1 603.9,366.7 607.0,365.2 609.4,371.4 610.1,378.0 590.0,378.0" fill="#00f0ff"/>
<polygon points="590.0,364.4 593.1,367.5 597.0,371.4 599.3,369.8 601.6,372.2 604.7,368.3 607.0,367.5 608.6,372.9 609.4,378.0 590.0,378.0" fill="#0032ff"/>
<polygon points="615.6,371.4 619.4,366.7 622.5,362.1 624.9,360.5 627.2,362.1 629.1,365.2 629.9,371.4 630.3,378.0 613.2,378.0" fill="#00ff50"/>
<polygon points="618.7,361.3 621.0,362.1 620.2,368.3 617.9,371.4 615.6,374.5 613.2,372.9 616.3,366.7" fill="#f0ff00"/>
<polygon points="621.0,369.8 624.1,368.3 624.9,372.9 622.5,374.5" fill="#00f0ff"/>
<polygon points="629.1,365.2 630.3,365.2 631.1,378.0 629.9,378.0" fill="#00f0ff"/>
</g>
<g clip-path="url(#c16)">
<polygon points="451.9,372.0 453.9,372.0 457.0,375.1 460.8,379.0 463.9,382.1 467.8,384.4 473.2,385.9 481.8,386.7 482.1,391.0 451.9,391.0" fill="#be00af"/>
<polygon points="451.9,373.5 454.6,376.6 457.7,381.3 458.5,385.9 456.2,391.0 451.9,391.0" fill="#eb00aa"/>
<polygon points="468.6,386.3 481.8,387.1 482.1,391.0 467.8,391.0" fill="#6e00b4"/>
<polygon points="457.7,373.5 464.7,372.0 469.4,376.6 468.6,380.5 465.5,382.8 461.6,380.5 459.3,376.6" fill="#0000b4"/>
<polygon points="470.9,376.6 476.3,374.3 478.7,376.6 481.0,380.5 482.5,384.4 484.1,387.5 482.5,387.5 479.4,383.6 476.3,381.3 473.2,379.7" fill="#00f0ff"/>
<polygon points="477.1,372.0 478.7,372.0 479.4,375.1 480.6,378.2 481.8,381.3 482.5,385.2 483.3,387.5 484.1,391.0 482.9,391.0 481.4,383.6 479.4,379.7 477.5,375.9" fill="#00ff50"/>
<polygon points="478.0,372.0 483.7,372.0 483.2,377.4 482.1,382.1 480.8,379.0 479.4,375.1" fill="#f0ff00"/>
<polygon points="478.8,372.0 483.2,372.0 482.5,376.6 481.8,380.5 480.6,378.2 479.6,375.1" fill="#ffd700"/>
<polygon points="451.9,372.0 453.5,372.8 453.9,383.6 452.7,386.7 451.9,385.2" fill="#ffb9be"/>
<polygon points="490.3,372.0 496.5,372.0 498.0,375.1 500.3,378.2 504.2,376.6 505.8,372.0 508.9,372.0 508.1,378.2 506.5,382.1 503.4,382.8 500.3,381.3 496.5,382.1 494.2,379.7 491.8,376.6" fill="#00f0ff"/>
<polygon points="504.2,383.6 508.9,382.8 512.0,385.2 511.2,389.8 507.3,389.0" fill="#00f0ff"/>
<polygon points="487.2,385.9 490.3,385.2 491.1,389.8 488.0,390.6" fill="#00f0ff"/>
<polygon points="512.0,372.0 518.2,372.0 518.0,381.3 516.6,387.5 514.3,388.3 512.9,382.1" fill="#00ff50"/>
<polygon points="513.1,372.0 517.4,372.0 517.2,380.5 516.2,386.7 514.4,387.1 513.5,381.3" fill="#f0ff00"/>
<polygon points="514.3,372.0 516.6,372.0 516.8,379.7 515.8,385.9 514.7,386.3 513.9,381.3" fill="#ffd700"/>
</g>
<g clip-path="url(#c17)">
<polygon points="520.0,372.0 545.6,372.0 544.8,376.6 543.2,382.1 541.7,384.4 538.6,382.1 535.5,385.2 532.4,382.8 529.3,385.2 526.2,382.1 523.1,384.4 520.0,382.8" fill="#00f0ff"/>
<rect x="524.6" y="372.0" width="1.9" height="9.3" fill="#0032ff"/>
<rect x="530.1" y="374.3" width="2.3" height="10.1" fill="#0032ff"/>
<rect x="536.7" y="373.5" width="1.9" height="9.3" fill="#0032ff"/>
<rect x="541.7" y="372.0" width="1.5" height="7.7" fill="#0032ff"/>
<polygon points="520.0,373.5 521.5,372.8 521.9,381.3 520.8,384.4 520.0,383.6" fill="#00ff50"/>
<polygon points="545.6,376.6 551.0,377.4 554.1,380.5 557.2,382.8 561.1,385.2 561.8,391.0 543.2,391.0 544.0,382.1" fill="#0000b4"/>
<polygon points="547.9,385.2 550.6,384.0 552.9,387.5 551.0,390.6 547.9,391.0" fill="#6e00b4"/>
<polygon points="546.3,372.0 548.7,372.0 552.5,375.9 554.9,379.0 557.2,382.1 560.3,380.5 562.6,376.6 563.4,372.0 565.7,372.0 564.2,378.2 561.8,382.1 560.3,385.9 558.7,382.8 555.6,381.3 552.5,378.2 549.4,375.9" fill="#00f0ff"/>
<polygon points="548.7,372.0 563.4,372.0 562.6,376.6 560.3,380.5 557.2,382.1 554.9,379.0 552.5,375.9" fill="#00ff50"/>
<polygon points="566.5,372.0 582.0,372.0 581.2,378.2 578.9,382.1 574.2,383.6 570.3,384.4 568.0,387.5 567.3,381.3" fill="#00f0ff"/>
<polygon points="569.6,372.0 571.9,372.0 571.5,378.2 569.6,379.7 569.2,375.1" fill="#ffd700"/>
<rect x="576.5" y="372.0" width="1.9" height="4.6" fill="#0032ff"/>
<rect x="585.8" y="378.2" width="3.1" height="3.9" fill="#00f0ff"/>
<polygon points="574.2,387.5 590.0,385.2 590.0,391.0 574.2,391.0" fill="#0000b4"/>
</g>
<g clip-path="url(#c18)">
<polygon points="596.2,378.2 600.1,376.6 600.8,391.0 597.0,391.0" fill="#0000b4"/>
<polygon points="605.5,374.3 607.8,374.3 608.6,391.0 605.5,391.0" fill="#0000b4"/>
<polygon points="590.0,372.0 591.5,372.0 591.2,375.9 590.0,376.6" fill="#00f0ff"/>
<polygon points="591.5,376.6 593.1,377.4 593.9,380.5 591.5,381.3" fill="#00f0ff"/>
<polygon points="609.4,372.0 631.4,372.0 631.1,376.6 629.5,380.1 626.4,382.8 621.0,384.4 619.8,387.5 616.3,387.5 613.2,384.4 610.1,379.7" fill="#00f0ff"/>
<polygon points="610.3,372.0 630.3,372.0 630.4,376.6 628.6,379.7 625.5,381.9 620.8,383.5 619.3,386.6 616.5,386.6 613.5,383.6 611.1,379.7" fill="#00ff50"/>
<polygon points="610.5,372.0 614.8,372.0 615.2,376.6 614.8,380.5 612.5,379.7 610.9,375.9" fill="#f0ff00"/>
<polygon points="619.4,372.0 624.1,372.0 623.3,374.3 621.0,375.1" fill="#00f0ff"/>
<polygon points="621.4,375.1 622.5,375.1 622.9,378.2 624.5,379.4 626.0,378.2 626.0,375.1 627.2,375.1 627.2,379.0 624.9,380.7 622.4,379.7" fill="#ffd700"/>
<polygon points="631.8,372.0 643.4,372.0 641.1,376.6 638.0,381.3 633.4,383.6 627.2,385.2 622.5,386.7 621.0,384.4 626.4,382.8 629.5,380.1 631.4,375.9" fill="#0000b4"/>
<polygon points="622.5,386.7 627.2,385.2 633.4,383.6 638.0,381.3 641.1,376.6 643.4,372.0 647.3,372.0 647.3,391.0 621.8,391.0" fill="#be00af"/>
<polygon points="644.2,372.0 647.3,372.0 647.3,391.0 640.3,391.0 640.3,383.6 641.9,378.2" fill="#eb00aa"/>
<polygon points="645.4,378.6 646.9,378.2 646.9,382.1 644.6,384.8" fill="#ffb9be"/>
</g>
<g clip-path="url(#c19)">
<polygon points="500.0,378.5 502.7,377.2 504.0,381.2 506.6,383.9 508.0,391.2 500.0,391.2" fill="#0032ff"/>
<polygon points="507.3,371.2 510.0,368.3 511.9,371.2 511.9,378.5 510.6,383.2 508.0,383.9 507.0,378.5" fill="#0032ff"/>
<polygon points="512.3,360.0 514.3,358.6 514.3,386.5 513.3,389.2 512.3,383.9" fill="#00ff50"/>
<polygon points="514.3,358.6 516.6,358.6 516.6,386.5 514.3,386.5" fill="#ffd700"/>
<polygon points="516.9,355.3 518.2,355.3 519.2,367.3 521.9,367.9 524.6,371.9 525.2,378.5 524.6,385.2 526.5,391.2 517.3,391.2 517.6,378.5" fill="#0032ff"/>
<polygon points="528.5,359.3 530.5,360.0 533.2,365.3 535.8,369.3 537.2,373.9 537.2,379.9 536.2,386.5 537.2,391.2 527.9,391.2 529.2,383.9 527.9,378.5 526.5,371.9 528.5,367.3" fill="#0032ff"/>
<polygon points="539.2,369.3 541.1,368.6 542.5,373.9 543.1,379.9 542.5,391.2 539.8,391.2 539.2,379.9" fill="#0032ff"/>
<polygon points="542.5,369.3 546.4,369.3 549.1,373.9 553.1,377.2 556.4,381.2 560.0,385.2 560.0,391.2 542.5,391.2" fill="#0032ff"/>
<polygon points="545.1,377.2 550.4,376.6 555.1,381.2 557.7,385.2 558.4,391.2 543.1,391.2 543.1,381.9" fill="#0000b4"/>
<polygon points="548.1,385.2 550.4,383.9 553.1,387.8 551.1,390.8 548.1,390.5" fill="#6e00b4"/>
</g>
<g clip-path="url(#c20)">
<polygon points="560.0,381.9 562.7,381.2 564.0,377.2 563.3,371.2 564.6,369.9 565.3,377.2 566.6,380.5 568.6,389.2 570.6,386.5 573.3,381.2 575.9,379.9 577.9,378.5 579.9,374.6 579.9,366.6 581.9,365.9 582.6,370.6 584.6,374.6 586.5,373.9 587.9,369.3 589.2,363.9 586.5,361.3 585.2,357.3 581.2,354.0 579.9,352.0 581.9,352.0 586.5,358.6 589.9,363.3 594.5,367.9 597.2,370.6 599.8,369.3 602.5,371.9 605.1,367.9 607.8,365.9 609.1,370.6 610.4,378.5 613.1,383.2 617.1,387.2 620.0,389.2 620.0,391.2 560.0,391.2" fill="#0032ff"/>
<polygon points="571.9,371.9 576.6,370.6 579.9,374.6 581.2,378.5 577.3,380.5 573.3,381.2 570.0,379.9" fill="#00f0ff"/>
<polygon points="585.9,378.5 587.9,377.2 589.2,379.9 587.5,381.9" fill="#00f0ff"/>
<polygon points="575.3,383.2 577.9,381.9 579.2,385.2 576.6,387.2" fill="#00f0ff"/>
<polygon points="595.8,378.5 599.8,375.9 602.5,379.9 602.5,391.2 597.2,391.2" fill="#0000b4"/>
<polygon points="605.1,373.2 609.1,371.9 610.4,379.9 611.8,386.5 606.4,391.2 605.1,381.9" fill="#0000b4"/>
<polygon points="613.1,352.0 620.0,352.0 620.0,358.6 617.1,358.6 614.4,355.3" fill="#0032ff"/>
</g>
<g clip-path="url(#c21)">
<polygon points="257.0,319.4 259.7,319.0 262.8,320.9 267.5,320.5 270.6,319.4 270.2,324.8 268.7,326.3 267.5,332.5 265.2,338.0 262.1,343.4 259.0,348.0 257.0,349.6" fill="#ffd700"/>
<polygon points="257.0,327.1 261.3,327.5 263.6,329.4 266.7,327.1 267.1,332.5 265.2,337.2 262.1,342.6 259.0,347.3 257.0,348.8" fill="#ffa000"/>
<polygon points="257.0,338.7 259.7,337.2 262.1,338.0 263.6,336.4 262.8,340.3 259.7,345.7 257.0,348.0" fill="#ff6400"/>
</g>
<g clip-path="url(#c22)">
<polygon points="438.0,316.3 439.5,317.4 441.8,318.6 444.5,317.4 447.3,319.0 450.3,320.5 451.9,320.9 451.9,354.2 448.0,354.2 446.5,350.0 444.2,343.4 442.2,337.2 441.1,331.0 441.8,326.3 440.3,321.7 438.7,318.6" fill="#ffd700"/>
<polygon points="442.2,326.3 444.2,326.7 446.5,328.3 449.6,327.9 451.9,328.7 451.9,355.0 448.8,355.0 447.3,350.0 444.9,344.2 443.0,337.2 441.8,331.0" fill="#ffa000"/>
<polygon points="444.2,337.2 446.5,339.5 449.6,338.0 451.9,338.7 451.9,355.8 450.3,355.8 448.0,350.0 445.7,344.2" fill="#ff6400"/>
</g>
<rect x="257.0" y="378.0" width="195.0" height="2.0" fill="#ffd700"/>
<rect x="257.0" y="379.4" width="195.0" height="1.2" fill="#ffa000"/>
<rect x="257.0" y="380.5" width="195.0" height="4.5" fill="#ff0f0f"/>
<rect x="257.0" y="381.8" width="195.0" height="2.0" fill="#ffb9be"/>
<rect x="257.0" y="385.0" width="195.0" height="1.0" fill="#0000b4"/>
<rect x="257.0" y="386.0" width="195.0" height="3.0" fill="#6e00b4"/>
<rect x="257.0" y="388.5" width="195.0" height="3.5" fill="#be00af"/>
</g>
<g id="ticks" fill="#000">
<rect x="271" y="388" width="1" height="4"/><rect x="271" y="131" width="1" height="5"/>
<rect x="286" y="388" width="1" height="4"/><rect x="286" y="131" width="1" height="5"/>
<rect x="301" y="388" width="1" height="4"/><rect x="301" y="131" width="1" height="5"/>
<rect x="317" y="388" width="1" height="4"/><rect x="317" y="131" width="1" height="5"/>
<rect x="332" y="382" width="2" height="10"/><rect x="332" y="131" width="2" height="10"/>
<rect x="347" y="388" width="1" height="4"/><rect x="347" y="131" width="1" height="5"/>
<rect x="363" y="388" width="1" height="4"/><rect x="363" y="131" width="1" height="5"/>
<rect x="378" y="388" width="1" height="4"/><rect x="378" y="131" width="1" height="5"/>
<rect x="393" y="388" width="1" height="4"/><rect x="393" y="131" width="1" height="5"/>
<rect x="408" y="382" width="2" height="10"/><rect x="408" y="131" width="2" height="10"/>
<rect x="424" y="388" width="1" height="4"/><rect x="424" y="131" width="1" height="5"/>
<rect x="439" y="388" width="1" height="4"/><rect x="439" y="131" width="1" height="5"/>
<rect x="455" y="388" width="1" height="4"/><rect x="455" y="131" width="1" height="5"/>
<rect x="470" y="388" width="1" height="4"/><rect x="470" y="131" width="1" height="5"/>
<rect x="485" y="382" width="2" height="10"/><rect x="485" y="131" width="2" height="10"/>
<rect x="500" y="388" width="1" height="4"/><rect x="500" y="131" width="1" height="5"/>
<rect x="516" y="388" width="1" height="4"/><rect x="516" y="131" width="1" height="5"/>
<rect x="531" y="388" width="1" height="4"/><rect x="531" y="131" width="1" height="5"/>
<rect x="546" y="388" width="1" height="4"/><rect x="546" y="131" width="1" height="5"/>
<rect x="561" y="382" width="2" height="10"/><rect x="561" y="131" width="2" height="10"/>
<rect x="577" y="388" width="1" height="4"/><rect x="577" y="131" width="1" height="5"/>
<rect x="592" y="388" width="1" height="4"/><rect x="592" y="131" width="1" height="5"/>
<rect x="608" y="388" width="1" height="4"/><rect x="608" y="131" width="1" height="5"/>
<rect x="623" y="388" width="1" height="4"/><rect x="623" y="131" width="1" height="5"/>
<rect x="638" y="382" width="2" height="10"/><rect x="638" y="131" width="2" height="10"/>
<rect x="256" y="376" width="5" height="1"/><rect x="643" y="376" width="5" height="1"/>
<rect x="256" y="358" width="5" height="1"/><rect x="643" y="358" width="5" height="1"/>
<rect x="256" y="341" width="5" height="1"/><rect x="643" y="341" width="5" height="1"/>
<rect x="256" y="323" width="5" height="1"/><rect x="643" y="323" width="5" height="1"/>
<rect x="256" y="305" width="10" height="2"/><rect x="638" y="305" width="10" height="2"/>
<rect x="256" y="288" width="5" height="1"/><rect x="643" y="288" width="5" height="1"/>
<rect x="256" y="270" width="5" height="1"/><rect x="643" y="270" width="5" height="1"/>
<rect x="256" y="253" width="5" height="1"/><rect x="643" y="253" width="5" height="1"/>
<rect x="256" y="235" width="5" height="1"/><rect x="643" y="235" width="5" height="1"/>
<rect x="256" y="217" width="10" height="2"/><rect x="638" y="217" width="10" height="2"/>
<rect x="256" y="200" width="5" height="1"/><rect x="643" y="200" width="5" height="1"/>
<rect x="256" y="182" width="5" height="1"/><rect x="643" y="182" width="5" height="1"/>
<rect x="256" y="165" width="5" height="1"/><rect x="643" y="165" width="5" height="1"/>
<rect x="256" y="147" width="5" height="1"/><rect x="643" y="147" width="5" height="1"/>
</g>
<rect x="256" y="131" width="392" height="261" fill="none" stroke="#000" stroke-width="2"/>
<g id="cbar">
<rect x="664" y="197" width="13" height="20" fill="#ff7878"/>
<rect x="664" y="217" width="13" height="21" fill="#ff0f0f"/>
<rect x="664" y="238" width="13" height="20" fill="#ff6400"/>
<rect x="664" y="258" width="13" height="9" fill="#ffa000"/>
<rect x="664" y="267" width="13" height="7" fill="#ffd700"/>
<rect x="664" y="274" width="13" height="5" fill="#f0ff00"/>
<rect x="664" y="279" width="13" height="5" fill="#00ff50"/>
<rect x="664" y="284" width="13" height="5" fill="#00f0ff"/>
<rect x="664" y="289" width="13" height="10" fill="#0032ff"/>
<rect x="664" y="299" width="13" height="21" fill="#0000b4"/>
<rect x="664" y="320" width="13" height="21" fill="#6e00b4"/>
<rect x="664" y="341" width="13" height="20" fill="#be00af"/>
<rect x="664" y="361" width="13" height="31" fill="#eb00aa"/>
<rect x="664" y="216.25" width="13" height="1.5" fill="#000"/>
<rect x="664" y="236.75" width="13" height="1.5" fill="#000"/>
<rect x="664" y="257.25" width="13" height="1.5" fill="#000"/>
<rect x="664" y="266.25" width="13" height="1.5" fill="#000"/>
<rect x="664" y="272.75" width="13" height="1.5" fill="#000"/>
<rect x="664" y="277.75" width="13" height="1.5" fill="#000"/>
<rect x="664" y="283.25" width="13" height="1.5" fill="#000"/>
<rect x="664" y="288.25" width="13" height="1.5" fill="#000"/>
<rect x="664" y="298.25" width="13" height="1.5" fill="#000"/>
<rect x="664" y="319.25" width="13" height="1.5" fill="#000"/>
<rect x="664" y="339.75" width="13" height="1.5" fill="#000"/>
<rect x="664" y="360.25" width="13" height="1.5" fill="#000"/>
<rect x="664" y="196" width="13" height="196" fill="none" stroke="#000" stroke-width="2"/>
</g>
</g>
<polygon points="664.2,196 671.3,166.8 676.8,196" fill="#ffb9be" stroke="#000" stroke-width="2" stroke-linejoin="miter"/>
<g id="labels">
<text class="thin" x="312.5 332.8 352.5 375.6 396.2 414.1 432.0 447.6 459.4 472.6 485.2 502.6 520.0 537.5 556.7 571.2 580.1 593.4" y="85" font-size="29" text-anchor="middle">H2O<tspan textLength="25.5" lengthAdjust="spacingAndGlyphs">-</tspan>g Mixing Ratio</text>
<text class="sm" x="167.5 177.8 189.5 201.2 212.5 224.1 235.6 249.0" y="109" font-size="16.5" text-anchor="middle">(×1E4 m)</text>
<text class="sm" x="570.0 580.3 592.0 603.7 615.0 626.5 638.1 651.5" y="438" font-size="16.5" text-anchor="middle">(×1E5 m)</text>
<text class="tm" x="658.4 668.7 681.8 693.7 705.0 715.9 726.8 734.4 742.0" y="143" font-size="16.5" text-anchor="middle">t=23400 s</text>
<text class="ax" x="379.4 396.9 414.1 428.7 443.4 456.1 467.9 477.5 487.5 501.7 513.9 525.3" y="468.5" font-size="23" text-anchor="middle">X<tspan textLength="21.7" lengthAdjust="spacingAndGlyphs">-</tspan>coordinate</text>
<text class="ax" x="6.4 23.9 41.1 55.7 70.4 83.1 94.9 104.5 114.5 128.7 140.9 152.3" y="0" font-size="23" text-anchor="middle" transform="translate(217.5,339) rotate(-90)">Z<tspan textLength="21.7" lengthAdjust="spacingAndGlyphs">-</tspan>coordinate</text>
<g class="lab" font-size="17.5">
<text x="332.5" y="415" text-anchor="middle">1</text>
<text x="409" y="415" text-anchor="middle">2</text>
<text x="486" y="415" text-anchor="middle">3</text>
<text x="562.5" y="415" text-anchor="middle">4</text>
<text x="639.5" y="415" text-anchor="middle">5</text>
<text x="240" y="311" text-anchor="middle">1</text>
<text x="240" y="223.5" text-anchor="middle">2</text>
<text x="691.2 697.5 707.5 717.3 727.6" y="243" font-size="17.5" text-anchor="middle">0.004</text>
<text x="690.9 700.9 712.4 724.4" y="279" font-size="17.5" text-anchor="middle">5e−4</text>
<text x="692.3 704.6 712.0 720.4 729.9 740.0" y="295" font-size="17.5" text-anchor="middle">−0.001</text>
<text x="692.4 704.6 712.7 719.4 729.6 740.8" y="346" font-size="17.5" text-anchor="middle">−0.006</text>
</g>
</g>
</svg>
</body></html>
